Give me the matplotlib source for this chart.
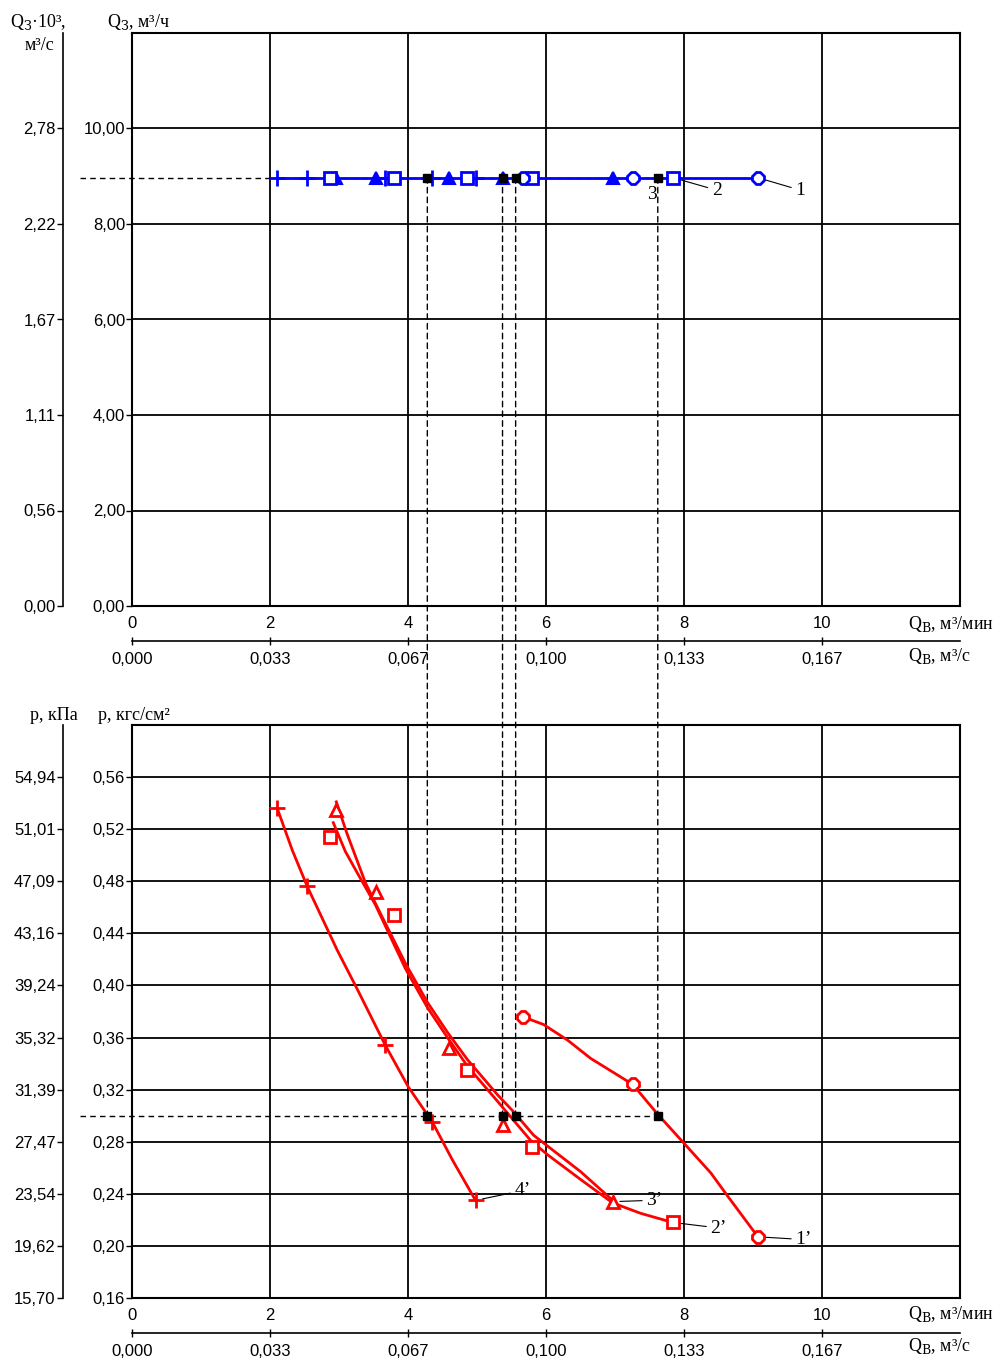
import matplotlib
matplotlib.use('Agg')
import matplotlib.pyplot as plt
from matplotlib.patches import ConnectionPatch

plt.rcParams['font.family'] = ['Liberation Serif', 'DejaVu Serif']
plt.rcParams['mathtext.fontset'] = 'dejavuserif'

# measured points: Q_B (m3/min) and p (kgf/cm2)
q4 = [2.10, 2.54, 3.67, 4.35, 4.98]
p4 = [0.536, 0.476, 0.354, 0.295, 0.235]
q3 = [2.95, 3.53, 4.59, 5.38, 6.97]
p3 = [0.535, 0.472, 0.352, 0.293, 0.234]
q2 = [2.87, 3.80, 4.86, 5.79, 7.84]
p2 = [0.514, 0.454, 0.335, 0.276, 0.218]
q1 = [5.66, 7.26, 9.07]
p1 = [0.376, 0.324, 0.207]

# curves as drawn in the picture
c4_q = [2.105, 2.322, 2.540, 2.975, 3.266, 3.672, 4.006, 4.354, 4.644, 4.978]
c4_p = [0.536, 0.504, 0.476, 0.427, 0.397, 0.354, 0.322, 0.295, 0.266, 0.235]
c3_q = [2.961, 3.120, 3.382, 3.556, 3.962, 4.282, 4.572, 4.862, 5.298, 5.530, 5.820, 6.502, 6.967]
c3_p = [0.541, 0.516, 0.479, 0.460, 0.417, 0.387, 0.364, 0.343, 0.316, 0.303, 0.285, 0.257, 0.235]
c2_q = [2.917, 3.091, 3.280, 3.527, 3.962, 4.282, 4.572, 4.862, 5.298, 5.777, 6.023, 6.502, 6.967, 7.373, 7.837]
c2_p = [0.525, 0.503, 0.485, 0.462, 0.413, 0.383, 0.360, 0.338, 0.311, 0.281, 0.270, 0.251, 0.233, 0.225, 0.218]
c1_q = [5.660, 5.965, 6.313, 6.647, 7.257, 7.620, 7.997, 8.389, 8.636, 9.071]
c1_p = [0.376, 0.370, 0.358, 0.344, 0.324, 0.301, 0.279, 0.256, 0.238, 0.207]

# Q_З (m3/h), working pressure and working points
qz = 8.97
p_work = 0.30
q_work = [4.28, 5.37, 5.56, 7.62]

top_yticks = [0, 2, 4, 6, 8, 10]
top_ylabels = ['0,00', '2,00', '4,00', '6,00', '8,00', '10,00']
top_ylabels2 = ['0,00', '0,56', '1,11', '1,67', '2,22', '2,78']
bot_yticks = [0.16, 0.20, 0.24, 0.28, 0.32, 0.36, 0.40, 0.44, 0.48, 0.52, 0.56]
bot_ylabels = ['0,16', '0,20', '0,24', '0,28', '0,32', '0,36', '0,40', '0,44', '0,48', '0,52', '0,56']
bot_ylabels2 = ['15,70', '19,62', '23,54', '27,47', '31,39', '35,32', '39,24', '43,16', '47,09', '51,01', '54,94']
xticks = [0, 2, 4, 6, 8, 10]
xlabels = ['0', '2', '4', '6', '8', '10']
xlabels2 = ['0,000', '0,033', '0,067', '0,100', '0,133', '0,167']

W, H = 1002, 1367
fig = plt.figure(figsize=(W / 100, H / 100), dpi=100)

tickfont = ['Liberation Sans Narrow', 'Liberation Sans', 'DejaVu Sans']


def setup(ax, ylim, yt, yl, yl2):
    ax.set_xlim(0, 12)
    ax.set_ylim(*ylim)
    ax.set_xticks(xticks)
    ax.set_xticklabels(xlabels, family=tickfont, fontsize=12)
    ax.set_yticks(yt)
    ax.set_yticklabels(yl, family=tickfont, fontsize=12)
    ax.tick_params(axis='x', length=0, pad=7)
    ax.tick_params(axis='y', length=4, width=1, pad=1)
    ax.grid(True, color='black', lw=1.3)
    ax.set_axisbelow(True)
    for s in ax.spines.values():
        s.set_linewidth(1.5)

    axl = ax.twinx()
    axl.set_ylim(*ylim)
    axl.yaxis.set_ticks_position('left')
    axl.spines['left'].set_position(('outward', 50))
    for k in ['right', 'top', 'bottom']:
        axl.spines[k].set_visible(False)
    axl.spines['left'].set_linewidth(1.2)
    axl.set_yticks(yt)
    axl.set_yticklabels(yl2, family=tickfont, fontsize=12)
    axl.tick_params(axis='y', length=4, width=1, pad=1)

    axb = ax.twiny()
    axb.set_xlim(0, 12)
    axb.xaxis.set_ticks_position('bottom')
    axb.spines['bottom'].set_position(('outward', 25))
    for k in ['right', 'top', 'left']:
        axb.spines[k].set_visible(False)
    axb.spines['bottom'].set_linewidth(1.2)
    axb.set_xticks(xticks)
    axb.set_xticklabels(xlabels2, family=tickfont, fontsize=12)
    axb.tick_params(axis='x', direction='inout', length=6, width=1, pad=5)
    return ax


ax1 = fig.add_axes([132 / W, 1 - 606 / H, 828 / W, 573 / H])
setup(ax1, (0, 12), top_yticks, top_ylabels, top_ylabels2)
ax2 = fig.add_axes([132 / W, 1 - 1298 / H, 828 / W, 573 / H])
setup(ax2, (0.16, 0.60), bot_yticks, bot_ylabels, bot_ylabels2)
# bring main axes on top of the twins
ax1.set_zorder(3)
ax1.patch.set_visible(False)
ax2.set_zorder(3)
ax2.patch.set_visible(False)

dash = (0, (4, 3))
blue = '#0000ff'
red = '#ff0000'

# top plot
qall = q1 + q2 + q3 + q4
ax1.plot([min(qall), max(qall)], [qz, qz], color=blue, lw=2, zorder=4)
ax1.plot([-0.75, max(q_work)], [qz, qz], color='black', lw=1, ls=dash, clip_on=False, zorder=3)
ax1.plot(q4, [qz] * len(q4), ls='none', marker='+', ms=12, mew=2, color=blue, zorder=5)
ax1.plot(q3, [qz] * len(q3), ls='none', marker='^', ms=8, mew=1.5, color=blue, zorder=5)
ax1.plot(q2, [qz] * len(q2), ls='none', marker='s', ms=8, mew=2, mfc='white', mec=blue, zorder=5)
ax1.plot(q1, [qz] * len(q1), ls='none', marker='8', ms=9, mew=2, mfc='white', mec=blue, zorder=5)
ax1.plot(q_work, [qz] * len(q_work), ls='none', marker='s', ms=6, color='black', zorder=6)

lead = dict(arrowstyle='-', lw=0.8, color='black', shrinkA=1, shrinkB=5)
ax1.annotate('1', xy=(q1[-1], qz), xytext=(27, -9), textcoords='offset points',
             ha='left', va='center', fontsize=14, arrowprops=lead)
ax1.annotate('2', xy=(q2[-1], qz), xytext=(28, -9), textcoords='offset points',
             ha='left', va='center', fontsize=14, arrowprops=lead)
ax1.annotate('3', xy=(q_work[-1], qz), xytext=(-4, -12), textcoords='offset points',
             ha='center', va='center', fontsize=14)

# bottom plot
ax2.plot(c4_q, c4_p, color=red, lw=2, zorder=4)
ax2.plot(c3_q, c3_p, color=red, lw=2, zorder=4)
ax2.plot(c2_q, c2_p, color=red, lw=2, zorder=4)
ax2.plot(c1_q, c1_p, color=red, lw=2, zorder=4)
ax2.plot(q4, p4, ls='none', marker='+', ms=12, mew=2, color=red, zorder=5)
ax2.plot(q3, p3, ls='none', marker='^', ms=9, mew=2, mfc='white', mec=red, zorder=5)
ax2.plot(q2, p2, ls='none', marker='s', ms=9, mew=2, mfc='white', mec=red, zorder=5)
ax2.plot(q1, p1, ls='none', marker='8', ms=9, mew=2, mfc='white', mec=red, zorder=5)
ax2.plot([-0.75, max(q_work)], [p_work, p_work], color='black', lw=1, ls=dash, clip_on=False, zorder=3)
ax2.plot(q_work, [p_work] * len(q_work), ls='none', marker='s', ms=6, color='black', zorder=6)

ax2.annotate('1’', xy=(q1[-1], p1[-1]), xytext=(27, -2), textcoords='offset points',
             ha='left', va='center', fontsize=14, arrowprops=lead)
ax2.annotate('2’', xy=(q2[-1], p2[-1]), xytext=(27, -4), textcoords='offset points',
             ha='left', va='center', fontsize=14, arrowprops=lead)
ax2.annotate('3’', xy=(q3[-1], p3[-1]), xytext=(24, 1), textcoords='offset points',
             ha='left', va='center', fontsize=14, arrowprops=lead)
ax2.annotate('4’', xy=(q4[-1], p4[-1]), xytext=(28, 7), textcoords='offset points',
             ha='left', va='center', fontsize=14, arrowprops=lead)

# vertical dashed links between the two plots
for q in q_work:
    con = ConnectionPatch(xyA=(q, qz), coordsA=ax1.transData,
                          xyB=(q, p_work), coordsB=ax2.transData,
                          color='black', lw=1, ls=dash, zorder=2)
    fig.add_artist(con)


def ftext(x, y, s, **kw):
    fig.text(x / W, 1 - y / H, s, va='center', fontsize=13, **kw)


ftext(10, 22, r'Q$_\mathrm{З}$·10³,')
ftext(25, 45, 'м³/с')
ftext(107, 22, r'Q$_\mathrm{З}$, м³/ч')
ftext(30, 716, 'р, кПа')
ftext(98, 716, 'р, кгс/см²')
for yy in (624, 1314):
    ftext(908, yy, r'Q$_\mathrm{В}$, м³/мин')
    ftext(908, yy + 32, r'Q$_\mathrm{В}$, м³/с')

fig.savefig('out.png', dpi=100)
